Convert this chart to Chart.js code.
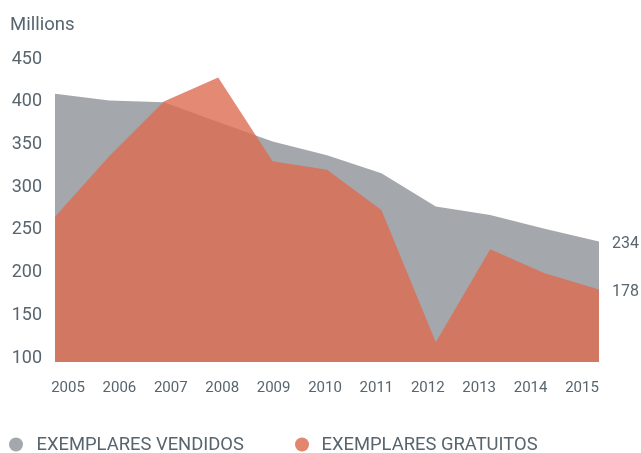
<!DOCTYPE html>
<html>
<head>
<meta charset="utf-8">
<script src="https://cdn.jsdelivr.net/npm/chart.js@4/dist/chart.umd.min.js"></script>
<style>
  html, body { margin: 0; padding: 0; background: #ffffff; }
  #wrap { width: 641px; height: 453px; position: relative; }
</style>
</head>
<body>
<div id="wrap"><canvas id="chart" width="641" height="453"></canvas></div>
<script>
// Years on the horizontal axis
const years = [2005, 2006, 2007, 2008, 2009, 2010, 2011, 2012, 2013, 2014, 2015];

// Copies sold (millions)
const vendidos = [407, 399, 397, 374, 351, 335, 314, 275, 265, 249, 234];

// Free copies (millions)
const gratuitos = [263, 334, 398, 426, 328, 318, 271, 116, 225, 197, 178];

// Vertical axis ticks
const yTicks = [100, 150, 200, 250, 300, 350, 400, 450];

const seriesNames = ['EXEMPLARES VENDIDOS', 'EXEMPLARES GRATUITOS'];
const unitLabel = 'Millions';

const TEXT = '#58656e';
const GREY = 'rgb(164,167,171)';
const ORANGE_FILL = 'rgba(221,107,80,0.8)';
const ORANGE_DOT = 'rgb(226,134,112)';
const FONT = 'Roboto, "Noto Sans", sans-serif';

// Unit caption, end-value labels and legend
const annotations = {
  id: 'annotations',
  afterDraw(chart) {
    const ctx = chart.ctx;
    const y = chart.scales.y;
    const area = chart.chartArea;
    ctx.save();
    ctx.fillStyle = TEXT;

    ctx.font = '18.5px ' + FONT;
    ctx.textAlign = 'left';
    ctx.textBaseline = 'alphabetic';
    ctx.fillText(unitLabel, 10, 30);

    // last value of each series at the right edge
    ctx.font = '16px ' + FONT;
    ctx.textBaseline = 'middle';
    chart.data.datasets.forEach(ds => {
      const v = ds.data[ds.data.length - 1];
      ctx.fillText(String(v), area.right + 13, y.getPixelForValue(v) + 2.5);
    });

    // legend
    const items = [
      { text: chart.data.datasets[0].label, color: GREY, cx: 16, tx: 36.5 },
      { text: chart.data.datasets[1].label, color: ORANGE_DOT, cx: 302, tx: 321.5 }
    ];
    const ly = 444.5;
    ctx.font = '18.4px ' + FONT;
    items.forEach(it => {
      ctx.beginPath();
      ctx.fillStyle = it.color;
      ctx.arc(it.cx, ly, 7, 0, Math.PI * 2);
      ctx.fill();
      ctx.fillStyle = TEXT;
      ctx.fillText(it.text, it.tx, ly + 1);
    });
    ctx.restore();
  }
};

// label axis range: year labels sit slightly inside the data span
const labelMin = 2004.747;
const labelMax = 2015.331;

new Chart(document.getElementById('chart'), {
  type: 'line',
  data: {
    labels: years.map(String),
    datasets: [
      {
        label: seriesNames[0],
        data: vendidos,
        backgroundColor: GREY,
        borderWidth: 0,
        pointRadius: 0,
        fill: 'start',
        tension: 0,
        order: 2
      },
      {
        label: seriesNames[1],
        data: gratuitos,
        backgroundColor: ORANGE_FILL,
        borderWidth: 0,
        pointRadius: 0,
        fill: 'start',
        tension: 0,
        order: 1
      }
    ]
  },
  options: {
    responsive: false,
    animation: false,
    devicePixelRatio: 1,
    layout: { padding: { left: 0, right: 42, top: 57, bottom: 50 } },
    plugins: {
      legend: { display: false },
      tooltip: { enabled: false },
      title: { display: false }
    },
    scales: {
      x: {
        type: 'category',
        display: false,
        offset: false
      },
      xLabels: {
        type: 'linear',
        position: 'bottom',
        min: labelMin,
        max: labelMax,
        grid: { display: false, drawTicks: false },
        border: { display: false },
        afterBuildTicks(scale) { scale.ticks = years.map(v => ({ value: v })); },
        afterFit(scale) { scale.height = 41; },
        ticks: {
          autoSkip: false,
          maxRotation: 0,
          padding: 17,
          color: TEXT,
          font: { family: FONT, size: 15 },
          callback: v => String(v)
        }
      },
      y: {
        min: 93,
        max: 450,
        grid: { display: false, drawTicks: false },
        border: { display: false },
        afterBuildTicks(scale) { scale.ticks = yTicks.map(v => ({ value: v })); },
        afterFit(scale) { scale.width = 55; },
        ticks: {
          padding: 13,
          labelOffset: 2,
          color: TEXT,
          font: { family: FONT, size: 18 }
        }
      }
    }
  },
  plugins: [annotations]
});
</script>
</body>
</html>
